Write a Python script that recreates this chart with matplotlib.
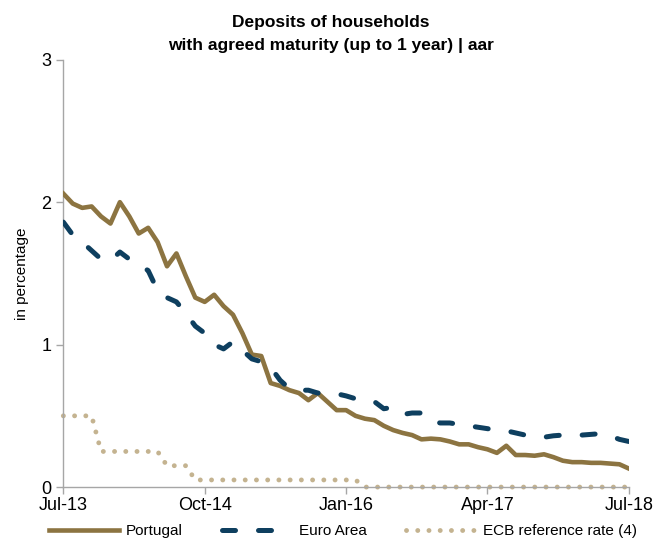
import numpy as np
import matplotlib.pyplot as plt
from matplotlib import font_manager

# monthly data, Jul-13 .. Jul-18
months = np.arange(61)
tick_pos = [0, 15, 30, 45, 60]
tick_labels = ["Jul-13", "Oct-14", "Jan-16", "Apr-17", "Jul-18"]

portugal = [2.06, 1.99, 1.96, 1.97, 1.90, 1.85, 2.00, 1.90, 1.78, 1.82,
            1.72, 1.55, 1.64, 1.48, 1.33, 1.30, 1.35, 1.27, 1.21, 1.08,
            0.93, 0.92, 0.73, 0.71, 0.68, 0.66, 0.61, 0.66, 0.60, 0.54,
            0.54, 0.50, 0.48, 0.47, 0.43, 0.40, 0.38, 0.365, 0.335, 0.34,
            0.335, 0.32, 0.30, 0.30, 0.28, 0.265, 0.24, 0.29, 0.225, 0.225,
            0.22, 0.23, 0.21, 0.185, 0.175, 0.175, 0.17, 0.17, 0.165, 0.16,
            0.13]

euro_area = [1.86, 1.77, 1.72, 1.66, 1.60, 1.59, 1.65, 1.60, 1.56, 1.52,
             1.38, 1.33, 1.30, 1.22, 1.13, 1.08, 1.00, 0.97, 1.02, 0.96,
             0.90, 0.88, 0.84, 0.75, 0.69, 0.68, 0.68, 0.66, 0.66, 0.655,
             0.64, 0.62, 0.60, 0.60, 0.55, 0.56, 0.51, 0.52, 0.52, 0.46,
             0.45, 0.45, 0.44, 0.43, 0.42, 0.41, 0.40, 0.395, 0.38, 0.365,
             0.35, 0.35, 0.36, 0.365, 0.36, 0.365, 0.37, 0.375, 0.36, 0.335,
             0.32]

ecb_rate = [0.5] * 4 + [0.25] * 7 + [0.15] * 3 + [0.05] * 18 + [0.0] * 29

names = set(f.name for f in font_manager.fontManager.ttflist)
narrow = "Liberation Sans Narrow" if "Liberation Sans Narrow" in names else "Liberation Sans"
plt.rcParams['font.family'] = ["Liberation Sans", "DejaVu Sans"]

c_pt = "#8c7441"
c_ea = "#0e3f5f"
c_ecb = "#c4b390"
grey = "#a6a6a6"

fig = plt.figure(figsize=(6.53, 5.43), dpi=100)
ax = fig.add_axes([0.097, 0.103, 0.866, 0.787])

ax.plot(months, ecb_rate, color=c_ecb, lw=3.5, dashes=(0.01, 2.3),
        dash_capstyle="round", label="ECB reference rate (4)", zorder=2, clip_on=False)
ax.plot(months, portugal, color=c_pt, lw=3.3, label="Portugal", zorder=3)
ax.plot(months, euro_area, color=c_ea, lw=3.6, dashes=(2.6, 4.6),
        dash_capstyle="round", label="Euro Area", zorder=4)

ax.set_xlim(0, 60)
ax.set_ylim(0, 3)
ax.set_xticks(tick_pos)
ax.set_xticklabels(tick_labels)
ax.set_yticks([0, 1, 2, 3])
ax.tick_params(axis="both", colors=grey, labelcolor="black", labelsize=13,
               length=5, width=1, direction="out")
ax.tick_params(axis="x", pad=2)
for s in ["top", "right"]:
    ax.spines[s].set_visible(False)
for s in ["left", "bottom"]:
    ax.spines[s].set_color(grey)
    ax.spines[s].set_linewidth(1)

ax.set_ylabel("in percentage", fontsize=11, family=narrow, labelpad=9)

fig.text(0.507, 0.958, "Deposits of households", ha="center", va="center",
         fontsize=12.5, fontweight="bold", family=narrow)
fig.text(0.507, 0.917, "with agreed maturity (up to 1 year) | aar", ha="center",
         va="center", fontsize=12.5, fontweight="bold", family=narrow)

handles, labels = ax.get_legend_handles_labels()
order = [1, 2, 0]
fig.legend([handles[i] for i in order], [labels[i] for i in order],
           loc="center", bbox_to_anchor=(0.525, 0.022), ncol=3, frameon=False,
           handlelength=4.6, handletextpad=0.4, columnspacing=2.6,
           prop={"family": narrow, "size": 11})

fig.savefig("out.png", dpi=100)
